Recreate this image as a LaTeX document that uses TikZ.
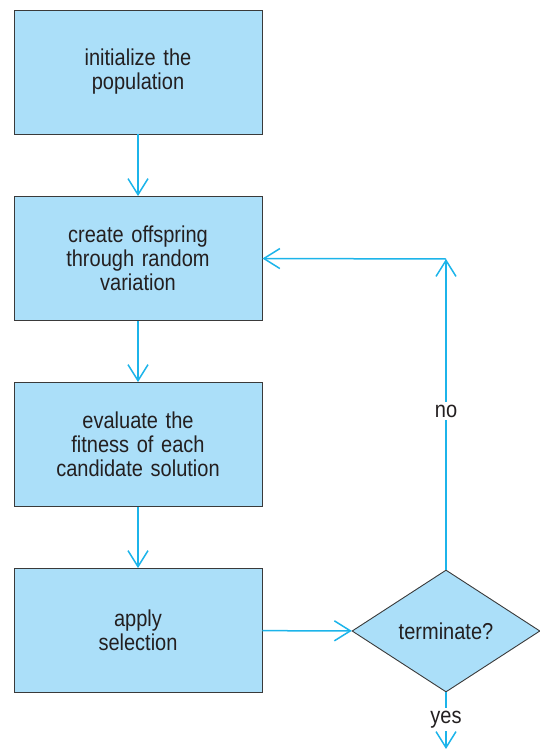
\documentclass[tikz,border=0pt]{standalone}
\usepackage{fontspec}
\setmainfont{Liberation Sans}[FakeStretch=0.87]
\usetikzlibrary{arrows.meta,shapes.geometric}
\definecolor{boxfill}{HTML}{ABDFF9}
\definecolor{flow}{HTML}{1CB4EA}
\definecolor{edge}{HTML}{3A3A3A}
\definecolor{txt}{HTML}{231F20}
\tikzset{
  stepbox/.style={draw=edge, line width=0.9pt, fill=boxfill, minimum width=248pt, minimum height=124pt,
    inner sep=0pt, text width=230pt, align=center, text=txt,
    font=\fontsize{23}{24}\selectfont},
  decisionbox/.style={diamond, draw=edge, line width=0.9pt, fill=boxfill, minimum width=188pt, minimum height=122pt,
    aspect=1.54, inner sep=0pt, text=txt, font=\fontsize{23}{24}\selectfont},
  flowline/.style={draw=flow, line width=1.5pt, -{Straight Barb[length=16pt,width=20pt,line width=1.5pt]}},
  flowlabel/.style={fill=white, inner sep=3pt, text=txt, font=\fontsize{23}{24}\selectfont},
}
\begin{document}
\begin{tikzpicture}[x=1pt,y=-1pt]
\useasboundingbox (0,0) rectangle (539,749);
\node[stepbox] (init) at (138,72) {initialize the\\population};
\node[stepbox] (create) at (138,258.5) {create offspring\\through random\\variation};
\node[stepbox] (eval) at (138,444.5) {evaluate the\\fitness of each\\candidate solution};
\node[stepbox] (select) at (138,630.5) {apply\\selection};
\node[decisionbox] (term) at (446,631) {terminate?};
\coordinate (corner) at (446,259);
\coordinate (exit) at (446,749);
\draw[flowline] (init) -- (create);
\draw[flowline] (create) -- (eval);
\draw[flowline] (eval) -- (select);
\draw[flowline] (select) -- (term);
\draw[flowline] (term.north) -- node[flowlabel, pos=0.51] (nolab) {no} (corner);
\draw[flowline] (corner) -- (create.east);
\draw[flowline] (term.south) -- node[flowlabel, pos=0.48] (yeslab) {yes} (exit);
\end{tikzpicture}
\end{document}
